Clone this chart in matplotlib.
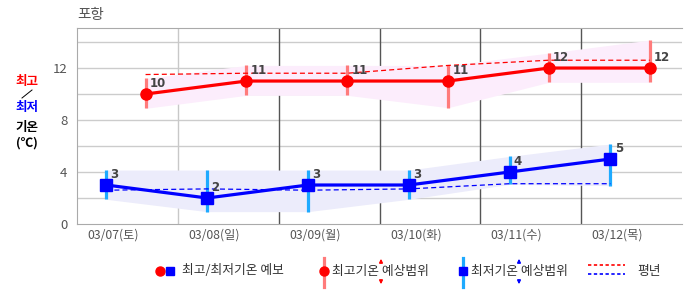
import matplotlib
matplotlib.use("Agg")
import matplotlib.pyplot as plt
from matplotlib.lines import Line2D

plt.rcParams['font.family'] = ['Noto Sans CJK KR', 'DejaVu Sans']

# dados
dias = ["03/07(토)", "03/08(일)", "03/09(월)", "03/10(화)", "03/11(수)", "03/12(목)"]
tmax = [10, 11, 11, 11, 12, 12]
tmax_lo = [8.9, 9.9, 9.9, 8.95, 10.9, 10.9]
tmax_hi = [11.2, 12.2, 12.2, 12.2, 13.15, 14.15]
tmax_normal = [11.5, 11.6, 11.6, 12.2, 12.6, 12.6]
tmin = [3, 2, 3, 3, 4, 5]
tmin_lo = [1.9, 0.95, 0.95, 1.9, 3.05, 2.95]
tmin_hi = [4.15, 4.15, 4.15, 4.15, 5.2, 6.15]
tmin_normal = [2.6, 2.7, 2.6, 2.7, 3.1, 3.1]

n = len(dias)
x_min = [i + 0.29 for i in range(n)]   # hora aproximada da minima
x_max = [i + 0.68 for i in range(n)]   # hora aproximada da maxima
x_tick = [i + 0.36 for i in range(n)]

RED = "#ff0000"
BLUE = "#0000ff"
RED_BAR = "#ff7b7b"
BLUE_BAR = "#1eaaff"

fig = plt.figure(figsize=(6.86, 2.95), dpi=100)
ax = fig.add_axes([77 / 686, 1 - 224 / 295, 605 / 686, 196 / 295])
ax.set_xlim(0, n)
ax.set_ylim(0, 15.08)

# grade
for y in range(2, 16, 2):
    ax.axhline(y, color="#cccccc", lw=1, zorder=0)
for i in range(1, n):
    ax.axvline(i, color="#c8c8c8" if i == 1 else "#555555", lw=1, zorder=0)

# faixas
ax.fill_between(x_max, tmax_lo, tmax_hi, color="#fcedfc", lw=0, zorder=1)
ax.fill_between(x_min, tmin_lo, tmin_hi, color="#ececfb", lw=0, zorder=1)

# barras de erro
ax.vlines(x_max, tmax_lo, tmax_hi, color=RED_BAR, lw=2.3, zorder=2)
ax.vlines(x_min, tmin_lo, tmin_hi, color=BLUE_BAR, lw=2.3, zorder=2)

# normais
ax.plot(x_max, tmax_normal, color=RED, lw=0.9, ls=(0, (4, 2.5)), zorder=3)
ax.plot(x_min, tmin_normal, color=BLUE, lw=0.9, ls=(0, (4, 2.5)), zorder=3)

# previsao
ax.plot(x_max, tmax, color=RED, lw=2.3, marker="o", ms=8, zorder=4)
ax.plot(x_min, tmin, color=BLUE, lw=2.3, marker="s", ms=8, zorder=4)

for xs, ys in [(x_max, tmax), (x_min, tmin)]:
    for xv, yv in zip(xs, ys):
        ax.annotate(str(yv), (xv, yv), xytext=(3, 3), textcoords="offset points",
                    fontsize=8.5, fontweight="bold", color="#444444",
                    family=["DejaVu Sans"], va="bottom", ha="left", zorder=5)

ax.set_yticks([0, 4, 8, 12])
ax.set_xticks(x_tick)
ax.set_xticklabels(dias)
ax.tick_params(length=0, labelsize=8.8, colors="#555555")
ax.tick_params(axis="y", pad=7, labelsize=9.5)
ax.tick_params(axis="x", pad=3)
for lado in ["top", "left", "bottom"]:
    ax.spines[lado].set_color("#aaaaaa")
ax.spines["right"].set_visible(False)

fig.text(77 / 686, 1 - 15 / 295, "포항", fontsize=10.5, color="#555555", va="center", ha="left")

# rotulo do eixo y
def fy(py):
    return 1 - py / 295

def fx(px):
    return px / 686

fig.text(fx(27), fy(81), "최고", color=RED, fontsize=9, fontweight="bold", ha="center", va="center")
fig.add_artist(Line2D([fx(22), fx(32)], [fy(98), fy(90)], color="black", lw=0.7))
fig.text(fx(27), fy(108), "최저", color=BLUE, fontsize=9, fontweight="bold", ha="center", va="center")
fig.text(fx(27), fy(127), "기온", color="black", fontsize=9, fontweight="bold", ha="center", va="center")
fig.text(fx(27), fy(143), "(℃)", color="black", fontsize=9, fontweight="bold", ha="center", va="center")

# legenda manual
ly = fy(271)
fs = 9.2
fig.add_artist(Line2D([fx(160)], [ly], marker="o", color=RED, ms=6.5, lw=0))
fig.add_artist(Line2D([fx(170)], [ly], marker="s", color=BLUE, ms=6, lw=0))
fig.text(fx(182), ly, "최고/최저기온 예보", fontsize=fs, color="#333333", va="center")

fig.add_artist(Line2D([fx(324), fx(324)], [fy(258), fy(287)], color=RED_BAR, lw=2.3))
fig.add_artist(Line2D([fx(324)], [ly], marker="o", color=RED, ms=6.5, lw=0))
fig.text(fx(332), ly, "최고기온 예상범위", fontsize=fs, color="#333333", va="center")
for a, b in [(fy(266), fy(256)), (fy(277), fy(287))]:
    fig.add_artist(plt.Annotation("", xy=(fx(381), b), xytext=(fx(381), a), xycoords="figure fraction",
                                  arrowprops=dict(arrowstyle="-|>", color=RED, lw=1, mutation_scale=5)))

fig.add_artist(Line2D([fx(463), fx(463)], [fy(258), fy(287)], color=BLUE_BAR, lw=2.3))
fig.add_artist(Line2D([fx(463)], [ly], marker="s", color=BLUE, ms=6, lw=0))
fig.text(fx(471), ly, "최저기온 예상범위", fontsize=fs, color="#333333", va="center")
for a, b in [(fy(266), fy(256)), (fy(277), fy(287))]:
    fig.add_artist(plt.Annotation("", xy=(fx(519), b), xytext=(fx(519), a), xycoords="figure fraction",
                                  arrowprops=dict(arrowstyle="-|>", color=BLUE, lw=1, mutation_scale=5)))

fig.add_artist(Line2D([fx(588), fx(625)], [fy(265), fy(265)], color=RED, lw=1.2, ls=(0, (2, 1.5))))
fig.add_artist(Line2D([fx(588), fx(625)], [fy(274), fy(274)], color=BLUE, lw=1.2, ls=(0, (2, 1.5))))
fig.text(fx(637), ly, "평년", fontsize=fs, color="#333333", va="center")

fig.savefig("out.png", dpi=100)
